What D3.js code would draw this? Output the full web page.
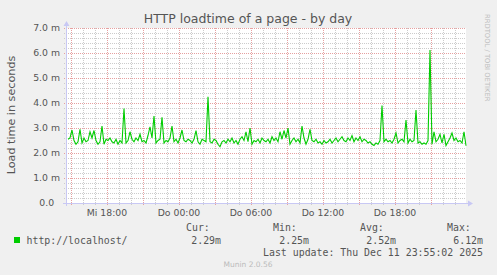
<!DOCTYPE html>
<html>
<head>
<meta charset="utf-8">
<script src="https://cdn.jsdelivr.net/npm/d3@7"></script>
<style>
  html, body { margin: 0; padding: 0; background: #f0f0f0; }
  svg { display: block; }
</style>
</head>
<body>
<svg id="chart"></svg>
<script>
// load time in ms, one value every 10 minutes, ending at the last update
const loadtime = [
  2.55, 2.60, 2.92, 2.50, 2.35, 2.45, 2.95, 2.40, 2.60, 2.45, 2.50, 2.85, 2.60, 2.90, 2.50, 2.35, 2.45, 3.08, 2.35, 2.55,
  2.50, 2.60, 2.45, 2.40, 2.55, 2.35, 2.50, 2.40, 3.78, 2.40, 2.50, 2.85, 2.55, 2.45, 2.60, 2.50, 2.75, 2.45, 2.50, 2.40,
  2.70, 3.05, 2.60, 3.48, 2.40, 2.50, 2.55, 3.43, 2.40, 2.50, 2.45, 2.60, 3.08, 2.45, 2.55, 2.40, 2.60, 2.92, 2.50, 2.45,
  2.55, 2.50, 2.40, 2.55, 2.90, 2.45, 2.35, 2.55, 2.50, 2.45, 4.25, 2.45, 2.40, 2.55, 2.50, 2.35, 2.25, 2.45, 2.50, 2.40,
  2.55, 2.45, 2.60, 2.40, 2.50, 2.35, 2.55, 2.65, 2.50, 2.85, 2.45, 3.00, 2.35, 2.50, 2.45, 2.55, 2.40, 2.60, 2.50, 2.45,
  2.55, 2.40, 2.65, 2.50, 2.60, 2.45, 2.85, 2.55, 2.90, 2.60, 3.00, 2.35, 2.50, 2.60, 2.45, 2.55, 2.40, 3.08, 2.60, 2.35,
  2.55, 2.95, 2.50, 2.45, 2.55, 2.40, 2.45, 2.35, 2.50, 2.40, 2.45, 2.55, 2.40, 2.50, 2.60, 2.45, 2.55, 2.65, 2.50, 2.45,
  2.60, 2.50, 2.70, 2.45, 2.60, 2.50, 2.65, 2.45, 2.55, 2.50, 2.40, 2.45, 2.35, 2.30, 2.40, 2.35, 2.50, 3.90, 2.45, 2.55,
  2.45, 2.50, 2.40, 2.55, 2.80, 2.40, 2.50, 2.55, 2.45, 3.32, 2.40, 2.55, 2.45, 2.50, 3.72, 2.40, 2.45, 2.35, 2.40, 2.35,
  2.50, 6.12, 2.35, 2.85, 2.45, 2.55, 2.75, 2.40, 2.75, 2.30, 2.45, 2.60, 2.80, 2.50, 2.60, 2.45, 2.50, 2.40, 2.85, 2.29
];
const yTicks = [0, 1, 2, 3, 4, 5, 6, 7];
const yTickLabels = ["0.0\u00a0\u00a0", "1.0 m", "2.0 m", "3.0 m", "4.0 m", "5.0 m", "6.0 m", "7.0 m"];
const statNames = ["Cur:", "Min:", "Avg:", "Max:"];
const statValues = ["2.29m", "2.25m", "2.52m", "6.12m"];
const seriesName = "http://localhost/";
const lastUpdate = "Last update: Thu Dec 11 23:55:02 2025";

const width = 497, height = 275;
const plotLeft = 66, plotRight = 466, plotTop = 28, plotBottom = 203;
const end = Date.UTC(2025, 11, 11, 23, 55);
const start = end - 400 * 300 * 1000;
const step = 600 * 1000;

const svg = d3.select("#chart").attr("width", width).attr("height", height);
svg.append("rect").attr("width", width).attr("height", height).attr("fill", "#f0f0f0");

const x = d3.scaleUtc().domain([start, end]).range([plotLeft, plotRight]);
const y = d3.scaleLinear().domain([0, 7]).range([plotBottom, plotTop]);

const de = d3.timeFormatLocale({
  dateTime: "%A, %e. %B %Y, %X", date: "%d.%m.%Y", time: "%H:%M:%S", periods: ["AM", "PM"],
  days: ["Sonntag", "Montag", "Dienstag", "Mittwoch", "Donnerstag", "Freitag", "Samstag"],
  shortDays: ["So", "Mo", "Di", "Mi", "Do", "Fr", "Sa"],
  months: ["Januar", "Februar", "März", "April", "Mai", "Juni", "Juli", "August", "September", "Oktober", "November", "Dezember"],
  shortMonths: ["Jan", "Feb", "Mär", "Apr", "Mai", "Jun", "Jul", "Aug", "Sep", "Okt", "Nov", "Dez"]
});
const fmt = de.utcFormat("%a %H:%M");

// canvas
svg.append("rect").attr("x", plotLeft).attr("y", plotTop)
  .attr("width", plotRight - plotLeft).attr("height", plotBottom - plotTop).attr("fill", "#ffffff");

const grid = svg.append("g").attr("shape-rendering", "crispEdges");

// minor grid
const minorY = d3.range(0, 7.01, 0.2).filter(v => Math.abs(v - Math.round(v)) > 0.01);
grid.selectAll(".hminor").data(minorY).join("line")
  .attr("x1", plotLeft - 2).attr("x2", plotRight)
  .attr("y1", d => Math.round(y(d)) + 0.5).attr("y2", d => Math.round(y(d)) + 0.5)
  .attr("stroke", "#cccccc").attr("stroke-dasharray", "1,1");
const hours = d3.utcHour.range(start, end).filter(d => d.getUTCHours() % 3 !== 0);
grid.selectAll(".vminor").data(hours).join("line")
  .attr("x1", d => Math.round(x(d)) + 0.5).attr("x2", d => Math.round(x(d)) + 0.5)
  .attr("y1", plotTop).attr("y2", plotBottom + 2)
  .attr("stroke", "#cccccc").attr("stroke-dasharray", "1,1");

// major grid
grid.selectAll(".hmajor").data(yTicks.slice(1)).join("line")
  .attr("x1", plotLeft - 2).attr("x2", plotRight)
  .attr("y1", d => Math.round(y(d)) + 0.5).attr("y2", d => Math.round(y(d)) + 0.5)
  .attr("stroke", "#e6a0a0").attr("stroke-dasharray", "1,1");
const majors = d3.utcHour.every(3).range(start, end);
grid.selectAll(".vmajor").data(majors).join("line")
  .attr("x1", d => Math.round(x(d)) + 0.5).attr("x2", d => Math.round(x(d)) + 0.5)
  .attr("y1", plotTop).attr("y2", plotBottom + 3)
  .attr("stroke", "#e6a0a0").attr("stroke-dasharray", "1,1");

// data line
const line = d3.line()
  .x((d, i) => x(end - (loadtime.length - 1 - i) * step))
  .y(d => y(d));
svg.append("path").datum(loadtime)
  .attr("d", line).attr("fill", "none").attr("stroke", "#00cc00").attr("stroke-width", 1.1);

// axes with arrows
const axisColor = "#c8c8f4";
svg.append("line").attr("x1", plotLeft - 3).attr("x2", plotRight + 4)
  .attr("y1", plotBottom + 0.5).attr("y2", plotBottom + 0.5).attr("stroke", axisColor);
svg.append("line").attr("x1", plotLeft + 0.5).attr("x2", plotLeft + 0.5)
  .attr("y1", plotBottom + 3).attr("y2", plotTop - 4).attr("stroke", axisColor);
svg.append("path")
  .attr("d", `M${plotRight + 2},${plotBottom - 2.5}L${plotRight + 7},${plotBottom + 0.5}L${plotRight + 2},${plotBottom + 3.5}Z`)
  .attr("fill", axisColor);
svg.append("path")
  .attr("d", `M${plotLeft - 2.5},${plotTop - 2}L${plotLeft + 0.5},${plotTop - 7}L${plotLeft + 3.5},${plotTop - 2}Z`)
  .attr("fill", axisColor);

// y tick labels
svg.append("g").selectAll("text").data(yTicks).join("text")
  .attr("x", 60).attr("y", d => y(d) + 3.4)
  .attr("text-anchor", "end")
  .attr("font-family", "DejaVu Sans").attr("font-size", "9.3px").attr("fill", "#555")
  .style("white-space", "pre")
  .text((d, i) => yTickLabels[i]);

// x tick labels
svg.append("g").selectAll("text").data(d3.utcHour.every(6).range(start, end)).join("text")
  .attr("x", d => x(d)).attr("y", 216)
  .attr("text-anchor", "middle")
  .attr("font-family", "DejaVu Sans").attr("font-size", "9.3px").attr("fill", "#555")
  .text(d => fmt(d));

// title
svg.append("text").attr("x", 248).attr("y", 23)
  .attr("text-anchor", "middle")
  .attr("font-family", "DejaVu Sans").attr("font-size", "12.5px").attr("fill", "#555")
  .text("HTTP loadtime of a page - by day");

// y axis title
svg.append("text").attr("transform", "translate(15,115) rotate(-90)")
  .attr("text-anchor", "middle")
  .attr("font-family", "DejaVu Sans").attr("font-size", "11.2px").attr("fill", "#555")
  .text("Load time in seconds");

// watermark
svg.append("text").attr("transform", "translate(485,14) rotate(90)")
  .attr("font-family", "DejaVu Sans").attr("font-size", "6.8px").attr("fill", "#bdbdbd")
  .text("RRDTOOL / TOBI OETIKER");

// legend
const mono = { family: "DejaVu Sans Mono", size: "9.9px" };
const statX = [186, 273, 360, 447];
const valX = [221, 309, 396, 483];
svg.append("g").selectAll("text").data(statNames).join("text")
  .attr("x", (d, i) => statX[i]).attr("y", 231)
  .attr("font-family", mono.family).attr("font-size", mono.size).attr("fill", "#555")
  .text(d => d);
svg.append("rect").attr("x", 14).attr("y", 237).attr("width", 6).attr("height", 6).attr("fill", "#00cc00");
svg.append("text").attr("x", 26.5).attr("y", 243.5)
  .attr("font-family", mono.family).attr("font-size", mono.size).attr("fill", "#555")
  .text(seriesName);
svg.append("g").selectAll("text").data(statValues).join("text")
  .attr("x", (d, i) => valX[i]).attr("y", 243.5).attr("text-anchor", "end")
  .attr("font-family", mono.family).attr("font-size", mono.size).attr("fill", "#555")
  .text(d => d);
svg.append("text").attr("x", 483).attr("y", 255.5).attr("text-anchor", "end")
  .attr("font-family", mono.family).attr("font-size", mono.size).attr("fill", "#555")
  .text(lastUpdate);
svg.append("text").attr("x", 248).attr("y", 267).attr("text-anchor", "middle")
  .attr("font-family", "DejaVu Sans").attr("font-size", "7.5px").attr("fill", "#bbbbbb")
  .text("Munin 2.0.56");
</script>
</body>
</html>
